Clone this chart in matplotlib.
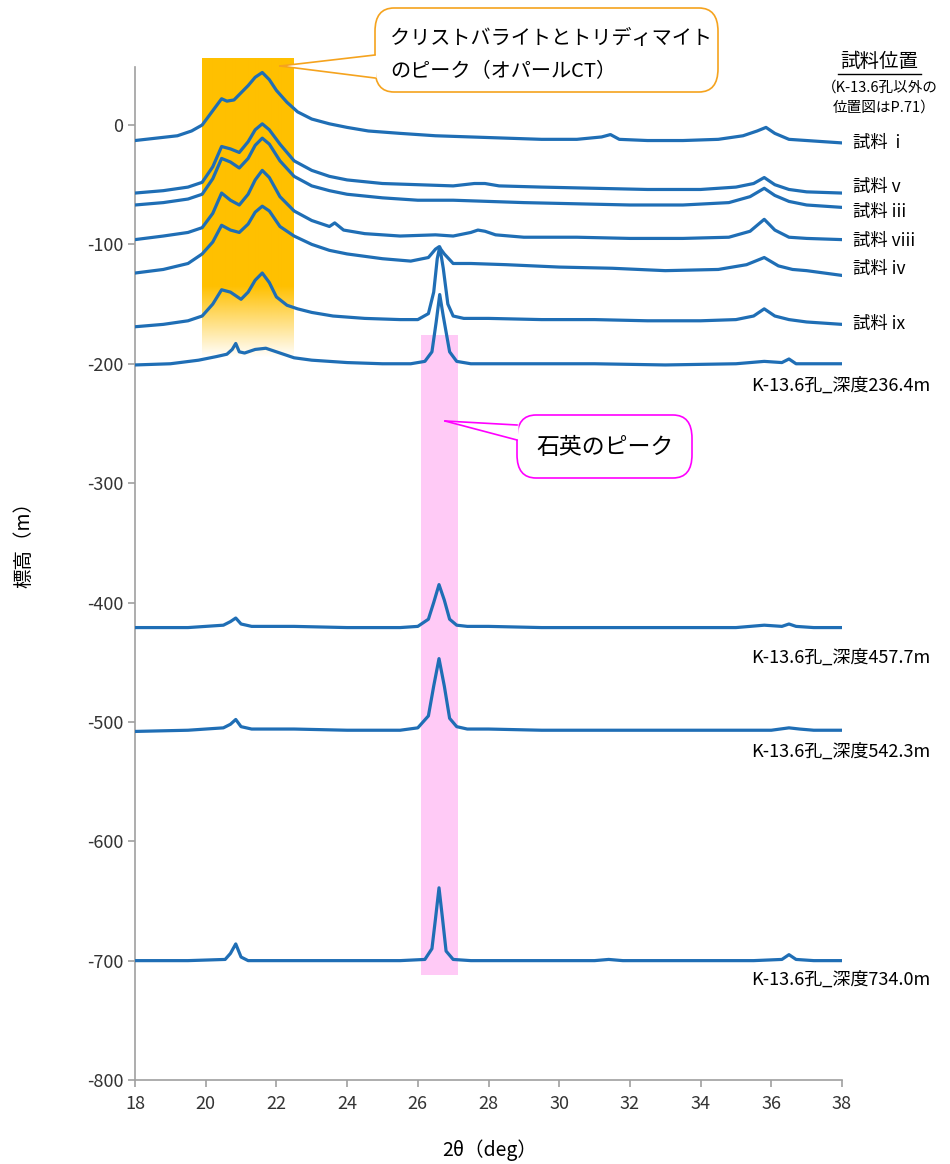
import numpy as np
import matplotlib
matplotlib.use('Agg')
import matplotlib.pyplot as plt
from matplotlib.patches import FancyBboxPatch, Polygon, Rectangle
from matplotlib.lines import Line2D

plt.rcParams['font.family'] = ['Noto Sans CJK JP', 'DejaVu Sans']
plt.rcParams['axes.unicode_minus'] = False

# XRD traces, offset to sample elevation (m)
x_i = [18.0, 18.6, 19.2, 19.6, 19.9, 20.2, 20.45, 20.6, 20.8, 21.0, 21.2, 21.4, 21.6, 21.8, 22.0, 22.3, 22.6,
       23.0, 23.5, 24.0, 24.6, 25.5, 26.5, 27.5, 28.5, 29.5, 30.5, 31.2, 31.45, 31.7, 32.5, 33.5, 34.5, 35.2,
       35.6, 35.85, 36.1, 36.5, 37.0, 37.5, 38.0]
y_i = [-13, -11, -9, -5, 0, 12, 22, 20, 21, 27, 33, 40, 44, 38, 29, 19, 11,
       5, 1, -2, -5, -7, -9, -10, -11, -12, -12, -10, -8, -12, -13, -13, -12, -9,
       -5, -2, -7, -12, -13, -14, -15]

x_v = [18, 18.8, 19.5, 19.9, 20.2, 20.45, 20.7, 20.95, 21.2, 21.4, 21.6, 21.8, 22.1, 22.5, 23.0, 23.5, 24.0,
       25.0, 26.0, 27.0, 27.6, 27.9, 28.3, 29.5, 31.0, 32.5, 34.0, 35.0, 35.5, 35.8, 36.1, 36.5, 37.0, 38.0]
y_v = [-57, -55, -52, -48, -35, -18, -20, -23, -14, -4, 1, -4, -16, -30, -38, -43, -46,
       -49, -50, -51, -49, -49, -51, -52, -53, -54, -54, -52, -49, -44, -50, -54, -56, -57]

x_iii = [18, 18.8, 19.5, 19.9, 20.2, 20.45, 20.7, 20.95, 21.2, 21.4, 21.6, 21.8, 22.1, 22.5, 23.0, 23.5, 24.0,
         25.0, 26.0, 27.0, 28.0, 29.0, 30.5, 32.0, 33.5, 34.8, 35.4, 35.8, 36.1, 36.5, 37.0, 38.0]
y_iii = [-67, -65, -62, -58, -45, -28, -31, -36, -28, -17, -11, -16, -30, -43, -51, -55, -58,
         -61, -63, -63, -64, -65, -66, -67, -67, -65, -60, -53, -59, -64, -67, -69]

x_viii = [18, 18.8, 19.5, 19.9, 20.2, 20.45, 20.7, 20.95, 21.2, 21.4, 21.6, 21.8, 22.1, 22.5, 23.0, 23.5,
          23.65, 23.9, 24.5, 25.5, 26.5, 27.0, 27.5, 27.7, 27.9, 28.2, 29.0, 30.5, 32.0, 33.5, 34.8, 35.4,
          35.8, 36.1, 36.5, 37.0, 38.0]
y_viii = [-96, -93, -90, -86, -74, -57, -63, -67, -58, -46, -38, -44, -60, -72, -80, -85,
          -82, -88, -91, -93, -92, -93, -90, -88, -89, -92, -94, -94, -95, -95, -94, -89,
          -79, -88, -94, -95, -96]

x_iv = [18, 18.8, 19.5, 19.9, 20.2, 20.45, 20.7, 20.95, 21.2, 21.4, 21.6, 21.8, 22.1, 22.5, 23.0, 23.5, 24.0,
        25.0, 25.8, 26.3, 26.5, 26.6, 26.75, 27.0, 27.5, 28.5, 30.0, 31.5, 33.0, 34.5, 35.3, 35.8, 36.2,
        36.6, 37.0, 38.0]
y_iv = [-124, -121, -116, -108, -98, -84, -88, -90, -83, -73, -68, -72, -85, -93, -100, -105, -108,
        -112, -114, -111, -104, -102, -108, -116, -116, -117, -119, -120, -122, -121, -117, -111, -118,
        -121, -122, -126]

x_ix = [18, 18.8, 19.5, 19.9, 20.2, 20.45, 20.7, 21.0, 21.2, 21.4, 21.6, 21.8, 22.0, 22.3, 22.6, 23.0, 23.6,
        24.5, 25.5, 26.0, 26.3, 26.45, 26.55, 26.62, 26.72, 26.85, 27.0, 27.3, 28.0, 29.5, 31.0, 32.5, 34.0,
        35.0, 35.5, 35.8, 36.1, 36.5, 37.0, 38.0]
y_ix = [-169, -167, -164, -160, -150, -138, -140, -146, -140, -130, -124, -132, -144, -151, -154, -157, -160,
        -162, -163, -163, -158, -140, -112, -102, -120, -150, -160, -162, -162, -163, -163, -164, -164,
        -163, -160, -154, -160, -163, -165, -167]

x_236 = [18, 19.0, 19.8, 20.3, 20.6, 20.75, 20.85, 20.95, 21.1, 21.4, 21.7, 22.0, 22.5, 23.0, 24.0, 25.0,
         25.8, 26.2, 26.4, 26.52, 26.62, 26.72, 26.9, 27.1, 27.5, 29.0, 31.0, 33.0, 35.0, 35.8, 36.3, 36.5,
         36.7, 37.2, 38.0]
y_236 = [-201, -200, -197, -194, -192, -188, -183, -190, -191, -188, -187, -190, -195, -197, -199, -200,
         -200, -198, -190, -165, -142, -160, -190, -198, -200, -200, -200, -201, -200, -198, -199, -196,
         -200, -200, -200]

x_457 = [18, 19.5, 20.5, 20.7, 20.85, 21.0, 21.3, 22.5, 24.0, 25.5, 26.0, 26.3, 26.45, 26.6, 26.75, 26.9,
         27.1, 27.4, 28.0, 29.5, 31.0, 33.0, 35.0, 35.8, 36.3, 36.5, 36.7, 37.2, 38.0]
y_457 = [-421, -421, -419, -416, -413, -418, -420, -420, -421, -421, -420, -414, -400, -385, -398, -414,
         -419, -420, -420, -421, -421, -421, -421, -419, -420, -418, -420, -421, -421]

x_542 = [18, 19.5, 20.5, 20.7, 20.85, 21.0, 21.3, 22.5, 24.0, 25.5, 26.0, 26.3, 26.45, 26.6, 26.75, 26.9,
         27.1, 27.4, 28.0, 29.5, 31.0, 33.0, 35.0, 36.0, 36.5, 36.8, 37.2, 38.0]
y_542 = [-508, -507, -505, -502, -498, -504, -506, -506, -507, -507, -505, -495, -470, -447, -470, -497,
         -504, -506, -506, -507, -507, -507, -507, -507, -505, -506, -507, -507]

x_734 = [18, 19.5, 20.55, 20.7, 20.85, 21.0, 21.2, 22.5, 24.0, 25.5, 26.2, 26.4, 26.5, 26.6, 26.7, 26.8,
         27.0, 27.5, 29.0, 31.0, 31.4, 31.8, 33.0, 35.5, 36.3, 36.5, 36.7, 37.2, 38.0]
y_734 = [-700, -700, -699, -694, -686, -697, -700, -700, -700, -700, -699, -690, -665, -639, -665, -692,
         -699, -700, -700, -700, -699, -700, -700, -700, -699, -695, -699, -700, -700]

traces = [(x_i, y_i), (x_v, y_v), (x_iii, y_iii), (x_viii, y_viii), (x_iv, y_iv), (x_ix, y_ix),
          (x_236, y_236), (x_457, y_457), (x_542, y_542), (x_734, y_734)]

sample_labels = ['試料  i', '試料 v', '試料 iii', '試料 viii', '試料 iv', '試料 ix']
sample_label_y = [-15, -52, -73, -97, -121, -167]
bore_labels = ['K-13.6孔_深度236.4m', 'K-13.6孔_深度457.7m', 'K-13.6孔_深度542.3m', 'K-13.6孔_深度734.0m']
bore_label_y = [-218, -446, -525, -716]

x_ticks = list(range(18, 39, 2))
y_ticks = list(range(-800, 1, 100))

W, H = 950, 1164
fig = plt.figure(figsize=(W / 100, H / 100), dpi=100)
ax = fig.add_axes([135 / W, 1 - 1080 / H, 707 / W, 1013 / H])
ax.set_xlim(18, 38)
ax.set_ylim(-800, 48.6)


def fx(px):
    return px / W


def fy(py):
    return 1 - py / H


# Opal-CT band (solid on top, fading out at bottom)
band_top, band_fade, band_bot = 56, -135, -195
alpha = np.clip((np.linspace(band_top, band_bot, 300) - band_bot) / (band_fade - band_bot), 0, 1)
rgba = np.zeros((300, 1, 4))
rgba[:, 0, :3] = matplotlib.colors.to_rgb('#FFC000')
rgba[:, 0, 3] = alpha
im = ax.imshow(rgba, extent=[19.9, 22.5, band_bot, band_top], aspect='auto', zorder=1,
               interpolation='bilinear')
im.set_clip_on(False)

# quartz band
ax.add_patch(Rectangle((26.1, -712), 1.05, 536, facecolor='#FFCAF6', edgecolor='none', zorder=1))

for xs, ys in traces:
    ax.plot(xs, ys, color='#1F6EB5', lw=2.3, zorder=3, solid_joinstyle='round')

ax.set_xticks(x_ticks)
ax.set_yticks(y_ticks)
ax.tick_params(axis='both', colors='#A0A0A0', labelcolor='#333333', labelsize=13, length=5, width=1.2)
ax.tick_params(axis='x', pad=6)
for s in ['top', 'right']:
    ax.spines[s].set_visible(False)
for s in ['left', 'bottom']:
    ax.spines[s].set_color('#A0A0A0')
    ax.spines[s].set_linewidth(1.2)

fig.text(fx(24), fy(540), '標高（m）', rotation=90, ha='center', va='center', fontsize=14)
fig.text(fx(490), fy(1150), '2θ（deg）', ha='center', va='center', fontsize=14)

for lab, yv in zip(sample_labels, sample_label_y):
    ax.text(38.3, yv, lab, ha='left', va='center', fontsize=12.5, clip_on=False)
for lab, yv in zip(bore_labels, bore_label_y):
    ax.text(40.5, yv, lab, ha='right', va='center', fontsize=13, clip_on=False)

fig.text(fx(879), fy(61), '試料位置', ha='center', va='center', fontsize=14)
fig.add_artist(Line2D([fx(838), fx(921)], [fy(74), fy(74)], color='black', lw=1))
fig.text(fx(880), fy(88), '（K-13.6孔以外の', ha='center', va='center', fontsize=10.5)
fig.text(fx(884), fy(108), '位置図はP.71）', ha='center', va='center', fontsize=10.5)


def callout(x0, y0, x1, y1, tip, b1, b2, edge):
    box = FancyBboxPatch((fx(x0), fy(y1)), fx(x1 - x0), (y1 - y0) / H,
                         boxstyle='round,pad=0,rounding_size=0.02', transform=fig.transFigure,
                         facecolor='white', edgecolor=edge, lw=1.2, zorder=5)
    fig.add_artist(box)
    tri = Polygon([(fx(tip[0]), fy(tip[1])), (fx(x0 + 1.5), fy(b1)), (fx(x0 + 1.5), fy(b2))],
                  closed=True, transform=fig.transFigure, facecolor='white', edgecolor='none', zorder=6)
    fig.add_artist(tri)
    for b in (b1, b2):
        fig.add_artist(Line2D([fx(tip[0]), fx(x0)], [fy(tip[1]), fy(b)], color=edge, lw=1.2, zorder=7))


callout(375, 8, 718, 92, (280, 66), 55, 78, '#F5A31E')
fig.text(fx(390), fy(38), 'クリストバライトとトリディマイト', ha='left', va='center', fontsize=14.5, zorder=8)
fig.text(fx(390), fy(72), 'のピーク（オパールCT）', ha='left', va='center', fontsize=14.5, zorder=8)

callout(517, 415, 692, 478, (445, 421), 425, 440, '#FF00FF')
fig.text(fx(605), fy(447), '石英のピーク', ha='center', va='center', fontsize=16.5, zorder=8)

fig.savefig('out.png', dpi=100)
